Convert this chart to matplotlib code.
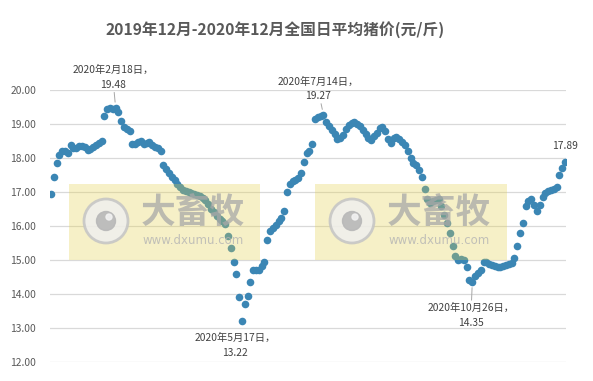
import matplotlib
matplotlib.use("Agg")
import matplotlib.pyplot as plt
from matplotlib.patches import Rectangle, Circle
import numpy as np

# ---- data: daily average pig price, sampled every ~2 days (yuan / jin) ----
price = [
    16.93, 17.45, 17.85, 18.10, 18.22, 18.20, 18.15, 18.38, 18.30, 18.30,
    18.36, 18.36, 18.33, 18.25, 18.27, 18.33, 18.38, 18.43, 18.50, 19.25,
    19.43, 19.46, 19.45, 19.48, 19.35, 19.10, 18.90, 18.85, 18.80, 18.40,
    18.42, 18.48, 18.50, 18.42, 18.45, 18.46, 18.37, 18.32, 18.28, 18.20,
    17.80, 17.68, 17.55, 17.45, 17.36, 17.25, 17.16, 17.07, 17.03, 17.00,
    16.97, 16.95, 16.91, 16.87, 16.82, 16.77, 16.65, 16.50, 16.40, 16.30,
    16.22, 16.15, 16.05, 15.70, 15.35, 14.95, 14.60, 13.90, 13.22, 13.70,
    13.95, 14.35, 14.72, 14.70, 14.72, 14.82, 14.95, 15.60, 15.85, 15.93,
    16.03, 16.15, 16.25, 16.45, 17.00, 17.25, 17.32, 17.35, 17.42, 17.55,
    17.88, 18.15, 18.22, 18.42, 19.15, 19.22, 19.24, 19.27, 19.05, 18.95,
    18.82, 18.70, 18.56, 18.58, 18.68, 18.85, 18.96, 19.03, 19.06, 19.00,
    18.93, 18.82, 18.70, 18.58, 18.53, 18.65, 18.75, 18.87, 18.90, 18.80,
    18.55, 18.45, 18.60, 18.62, 18.55, 18.47, 18.38, 18.20, 18.00, 17.84,
    17.80, 17.65, 17.45, 17.10, 16.78, 16.68, 16.74, 16.76, 16.78, 16.60,
    16.32, 16.10, 15.80, 15.40, 15.12, 15.00, 15.03, 15.00, 14.78, 14.42,
    14.35, 14.52, 14.62, 14.70, 14.95, 14.93, 14.87, 14.85, 14.82, 14.78,
    14.78, 14.82, 14.85, 14.87, 14.92, 15.05, 15.40, 15.78, 16.08, 16.60,
    16.75, 16.80, 16.62, 16.45, 16.62, 16.85, 16.97, 17.02, 17.05, 17.08,
    17.15, 17.50, 17.72, 17.89,
]
yticks = [12, 13, 14, 15, 16, 17, 18, 19, 20]
title = "2019年12月-2020年12月全国日平均猪价(元/斤)"
# (point index, label text, offset in points, leader line)
callouts = [
    (23, "2020年2月18日，\n19.48", (-2, 13), True),
    (68, "2020年5月17日，\n13.22", (-5, -9), False),
    (97, "2020年7月14日，\n19.27", (-4, 10), True),
    (150, "2020年10月26日，\n14.35", (-1, -15), True),
    (183, "17.89", (0, 8), False),
]

C_DOT = "#3b86b4"
C_TXT = "#404040"
C_AX = "#595959"
CJK = ["Noto Sans CJK SC", "DejaVu Sans"]
plt.rcParams["font.family"] = CJK

W, H = 593, 381
fig = plt.figure(figsize=(W / 100, H / 100), dpi=100)
ax = fig.add_axes([50 / W, 1 - 362 / H, 516 / W, 272 / H])

x = np.arange(len(price))
ax.scatter(x, price, s=30, color=C_DOT, linewidths=0, zorder=3)
ax.set_xlim(-0.36, len(price) - 1 + 0.36)
ax.set_ylim(12, 20)
ax.set_yticks(yticks)
ax.set_yticklabels([f"{v:.2f}" for v in yticks], fontsize=7.4, color=C_AX)
ax.set_xticks([])
ax.tick_params(axis="y", length=0, pad=10)
ax.yaxis.grid(True, color="#d9d9d9", lw=0.9)
ax.set_axisbelow(True)
for s in ax.spines.values():
    s.set_visible(False)

for i, txt, off, line in callouts:
    va = "bottom" if off[1] > 0 else "top"
    ap = dict(arrowstyle="-", color="#a6a6a6", lw=0.7, shrinkA=0, shrinkB=4) if line else None
    ax.annotate(txt, (x[i], price[i]), xytext=off, textcoords="offset points",
                ha="center", va=va, fontsize=7.4, color=C_TXT, linespacing=1.55,
                arrowprops=ap, annotation_clip=False, zorder=5)

fig.text(275 / W, 1 - 30 / H, title, ha="center", va="center", fontsize=11.3,
         fontweight="bold", color=C_AX)

# ---- watermark overlay in pixel space ----
ov = fig.add_axes([0, 0, 1, 1], zorder=10)
ov.set_xlim(0, W); ov.set_ylim(H, 0); ov.axis("off"); ov.patch.set_alpha(0)
for x0, x1 in [(69, 260), (315, 507)]:
    ov.add_patch(Rectangle((x0, 184), x1 - x0, 76, color="#e4d048", alpha=0.3, lw=0))
    cx = x0 + 37
    ov.add_patch(Circle((cx, 221), 22, facecolor="#efefef", edgecolor="#c4c4c4",
                        lw=2, alpha=0.85))
    ov.add_patch(Circle((cx, 221), 9.5, color="#b8b8b8", alpha=0.9))
    ov.add_patch(Circle((cx + 3, 217), 3, color="#f2f2f2", alpha=0.9))
    ov.text(x0 + 124, 212, "大畜牧", ha="center", va="center", fontsize=25,
            fontweight="bold", color="#a8a8a8", alpha=0.75)
    ov.text(x0 + 124, 240, "www.dxumu.com", ha="center", va="center", fontsize=8.5,
            color="#b4b4b4", alpha=0.8, family="DejaVu Sans")

fig.savefig("out.png", dpi=100, facecolor="white")
